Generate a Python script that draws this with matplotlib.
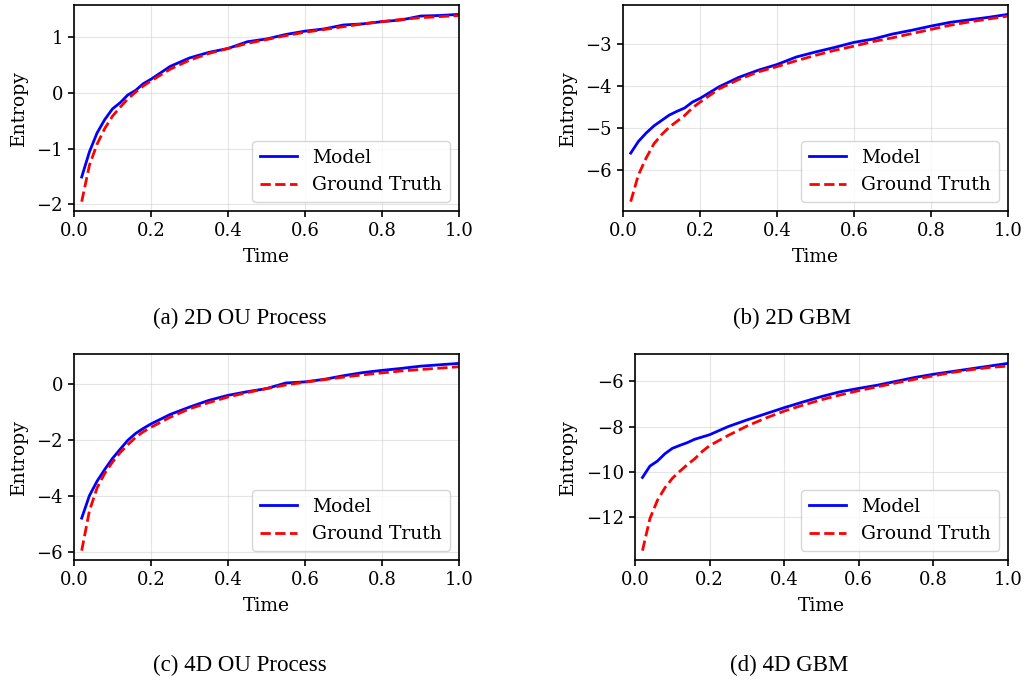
import numpy as np
import matplotlib.pyplot as plt

# time grid (dense near the start where the curves bend)
t = [0.02, 0.04, 0.06, 0.08, 0.10, 0.12, 0.14, 0.16, 0.18, 0.20,
     0.25, 0.30, 0.35, 0.40, 0.45, 0.50, 0.55, 0.60, 0.65, 0.70,
     0.75, 0.80, 0.85, 0.90, 0.95, 1.00]

# (a) 2D OU Process
ou2_model = [-1.51, -1.06, -0.72, -0.48, -0.29, -0.18, -0.04, 0.04, 0.16, 0.24,
             0.47, 0.62, 0.72, 0.79, 0.91, 0.96, 1.04, 1.10, 1.14, 1.21,
             1.23, 1.27, 1.30, 1.37, 1.38, 1.40]
ou2_truth = [-1.95, -1.30, -0.92, -0.64, -0.42, -0.26, -0.11, 0.01, 0.12, 0.21,
             0.42, 0.58, 0.70, 0.79, 0.88, 0.95, 1.02, 1.08, 1.13, 1.18,
             1.23, 1.27, 1.31, 1.34, 1.36, 1.38]

# (b) 2D GBM
gbm2_model = [-5.60, -5.32, -5.12, -4.95, -4.82, -4.69, -4.60, -4.52, -4.38, -4.29,
              -4.01, -3.79, -3.62, -3.48, -3.30, -3.18, -3.07, -2.95, -2.87, -2.75,
              -2.66, -2.56, -2.47, -2.41, -2.35, -2.28]
gbm2_truth = [-6.76, -6.12, -5.72, -5.38, -5.16, -4.98, -4.84, -4.70, -4.52, -4.38,
              -4.06, -3.84, -3.66, -3.53, -3.39, -3.26, -3.14, -3.04, -2.93, -2.84,
              -2.74, -2.64, -2.54, -2.46, -2.39, -2.32]

# (c) 4D OU Process
ou4_model = [-4.78, -3.98, -3.46, -3.04, -2.65, -2.32, -2.00, -1.76, -1.58, -1.42,
             -1.08, -0.82, -0.58, -0.40, -0.27, -0.16, 0.04, 0.08, 0.17, 0.30,
             0.41, 0.49, 0.56, 0.64, 0.69, 0.74]
ou4_truth = [-5.94, -4.52, -3.70, -3.18, -2.78, -2.44, -2.16, -1.90, -1.70, -1.54,
             -1.18, -0.88, -0.66, -0.46, -0.30, -0.16, -0.03, 0.07, 0.16, 0.25,
             0.33, 0.40, 0.47, 0.52, 0.57, 0.62]

# (d) 4D GBM
gbm4_model = [-10.24, -9.74, -9.52, -9.20, -8.96, -8.83, -8.71, -8.56, -8.46, -8.36,
              -8.00, -7.71, -7.44, -7.17, -6.92, -6.68, -6.47, -6.32, -6.18, -6.01,
              -5.84, -5.70, -5.58, -5.46, -5.34, -5.22]
gbm4_truth = [-13.46, -12.05, -11.25, -10.70, -10.28, -9.97, -9.68, -9.42, -9.10, -8.84,
              -8.39, -7.98, -7.63, -7.32, -7.06, -6.82, -6.61, -6.42, -6.25, -6.08,
              -5.92, -5.77, -5.62, -5.50, -5.40, -5.34]

captions = ['(a) 2D OU Process', '(b) 2D GBM', '(c) 4D OU Process', '(d) 4D GBM']

W, H = 1027, 684
fig = plt.figure(figsize=(W / 100, H / 100), dpi=100)

# axes boxes in pixels: left, top, right, bottom
boxes = [(74, 5, 459, 211), (623, 5, 1008, 211),
         (74, 354, 459, 560), (635, 354, 1008, 560)]
cap_pos = [(240, 318), (792, 318), (240, 665), (789, 665)]
series = [(ou2_model, ou2_truth), (gbm2_model, gbm2_truth),
          (ou4_model, ou4_truth), (gbm4_model, gbm4_truth)]

for (l, tp, r, b), (model, truth), cap, (cx, cy) in zip(boxes, series, captions, cap_pos):
    ax = fig.add_axes([l / W, 1 - b / H, (r - l) / W, (b - tp) / H])
    ax.plot(t, model, color='blue', lw=2, label='Model')
    ax.plot(t, truth, color='red', lw=2, ls='--', label='Ground Truth')
    ax.set_xlim(0, 1)
    ax.set_xticks([0, 0.2, 0.4, 0.6, 0.8, 1.0])
    ax.grid(True, color='#cccccc', alpha=0.5, lw=0.8)
    ax.set_xlabel('Time', fontsize=13.5, family='DejaVu Serif', labelpad=5.5)
    ax.set_ylabel('Entropy', fontsize=13.5, family='DejaVu Serif', labelpad=6)
    ax.tick_params(labelsize=13, width=1.2, length=4.5)
    for lab in ax.get_xticklabels() + ax.get_yticklabels():
        lab.set_family('DejaVu Serif')
    for s in ax.spines.values():
        s.set_linewidth(1.2)
    ax.legend(loc='lower right', prop={'family': 'DejaVu Serif', 'size': 13.5})
    fig.text(cx / W, 1 - cy / H, cap, ha='center', va='center',
             fontsize=16.5, family='Liberation Serif')

plt.savefig('out.png', dpi=100)
